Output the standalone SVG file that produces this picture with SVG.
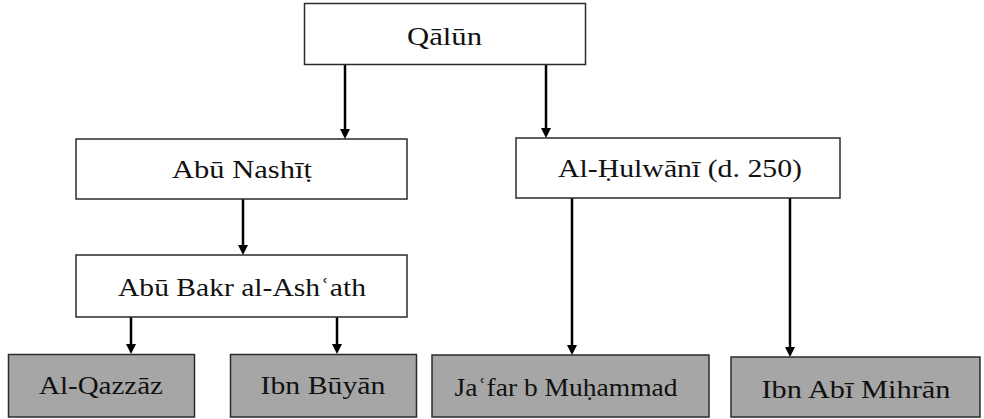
<svg xmlns="http://www.w3.org/2000/svg" width="984" height="419" viewBox="0 0 984 419">
  <style>
    .box { fill: #ffffff; stroke: #2b2b2b; stroke-width: 1.5; }
    .leaf { fill: #a6a6a6; stroke: #2b2b2b; stroke-width: 1.5; }
    .lbl { font-family: "Liberation Serif", "DejaVu Serif", serif; font-size: 25px; fill: #111111; text-anchor: middle; }
    .edge { stroke: #000000; stroke-width: 2.5; fill: none; marker-end: url(#arrow); }
  </style>
  <defs>
    <!-- arrowhead starts where the shaft ends and reaches 10px further -->
    <marker id="arrow" markerUnits="userSpaceOnUse" markerWidth="10" markerHeight="10" viewBox="0 0 10 10" refX="0" refY="5" orient="auto">
      <path d="M0,0 L10,5 L0,10 Z" fill="#000000"/>
    </marker>
  </defs>

  <g id="connectors">
    <line class="edge" x1="345" y1="64" x2="345" y2="129"/>
    <line class="edge" x1="546" y1="64" x2="546" y2="128"/>
    <line class="edge" x1="243" y1="199" x2="243" y2="245"/>
    <line class="edge" x1="572" y1="198" x2="572" y2="345"/>
    <line class="edge" x1="790" y1="198" x2="790" y2="347"/>
    <line class="edge" x1="131" y1="317" x2="131" y2="344"/>
    <line class="edge" x1="337" y1="317" x2="337" y2="344"/>
  </g>

  <g id="qalun">
    <rect class="box" x="304.5" y="3.5" width="281" height="61"/>
    <text class="lbl" x="444.5" y="45" textLength="75" lengthAdjust="spacingAndGlyphs">Qālūn</text>
  </g>
  <g id="abu-nashit">
    <rect class="box" x="76" y="139" width="331" height="60"/>
    <text class="lbl" x="242" y="178" textLength="140" lengthAdjust="spacingAndGlyphs">Abū Nashīṭ</text>
  </g>
  <g id="al-hulwani">
    <rect class="box" x="516" y="138" width="324" height="60"/>
    <text class="lbl" x="680" y="177" textLength="244" lengthAdjust="spacingAndGlyphs">Al-Ḥulwānī (d. 250)</text>
  </g>
  <g id="abu-bakr">
    <rect class="box" x="76" y="255" width="331" height="62"/>
    <text class="lbl" x="242" y="296" textLength="248" lengthAdjust="spacingAndGlyphs">Abū Bakr al-Ashʿath</text>
  </g>
  <g id="al-qazzaz">
    <rect class="leaf" x="8.5" y="354.5" width="186" height="62.5"/>
    <text class="lbl" x="101" y="394" textLength="124" lengthAdjust="spacingAndGlyphs">Al-Qazzāz</text>
  </g>
  <g id="ibn-buyan">
    <rect class="leaf" x="230.5" y="354.5" width="186" height="62.5"/>
    <text class="lbl" x="323" y="394" textLength="125" lengthAdjust="spacingAndGlyphs">Ibn Būyān</text>
  </g>
  <g id="jafar">
    <rect class="leaf" x="432" y="355" width="277" height="62"/>
    <text class="lbl" x="566" y="396" font-size="22" textLength="223" lengthAdjust="spacingAndGlyphs">Jaʿfar b Muḥammad</text>
  </g>
  <g id="ibn-abi-mihran">
    <rect class="leaf" x="731" y="357" width="249" height="60"/>
    <text class="lbl" x="856" y="398" textLength="189" lengthAdjust="spacingAndGlyphs">Ibn Abī Mihrān</text>
  </g>
</svg>
